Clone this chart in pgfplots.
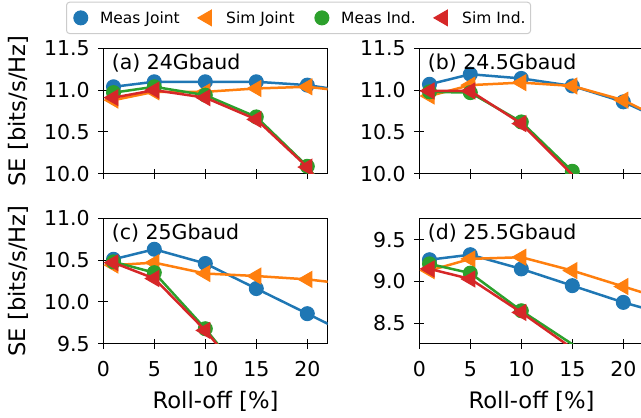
\documentclass[border=0pt]{standalone}
\usepackage{fontspec}
\setmainfont{DejaVu Sans}
\usepackage{pgfplots}
\pgfplotsset{compat=1.18}

\definecolor{tblue}{HTML}{1F77B4}
\definecolor{torange}{HTML}{FF7F0E}
\definecolor{tgreen}{HTML}{2CA02C}
\definecolor{tred}{HTML}{D62728}

\pgfplotsset{
  panel/.style={
    scale only axis, width=224.4pt, height=125.5pt,
    xmin=0, xmax=22, xtick={0,5,10,15,20},
    tick pos=left, tick align=center, major tick length=10pt,
    axis line style={line width=1pt},
    every tick/.style={black, line width=1pt},
    tick label style={font=\fontsize{20.5}{24}\selectfont},
    xticklabel style={yshift=-9pt},
    label style={font=\fontsize{22.7}{27}\selectfont},
    /pgf/number format/assume math mode=true,
    yticklabel style={xshift=-5pt, /pgf/number format/.cd, fixed, fixed zerofill, precision=1},
    xlabel style={at={(axis description cs:0.5,-0.46)}, anchor=center},
    ylabel style={at={(axis description cs:-0.379,0.5)}, anchor=center},
    clip marker paths=true,
    legend image code/.code={
      \path (-10pt,0pt) (16pt,0pt);
      \draw[##1] plot coordinates {(0pt,0pt)};
    },
  },
  mj/.style={tblue, line width=2.5pt, mark=*, mark size=7pt, mark options={line width=1pt}},
  sj/.style={torange, line width=2.5pt, mark=triangle*, mark size=9pt, mark options={rotate=90, line width=1pt}},
  mi/.style={tgreen, line width=2.5pt, mark=*, mark size=7pt, mark options={line width=1pt}},
  si/.style={tred, line width=2.5pt, mark=triangle*, mark size=9pt, mark options={rotate=90, line width=1pt}},
}
\newcommand{\paneltext}[1]{\node[anchor=base west, font=\fontsize{20.5}{24}\selectfont] at (rel axis cs:0,1) [xshift=5pt, yshift=-21pt] {#1};}

\begin{document}
\begin{tikzpicture}
\useasboundingbox (0pt,0pt) rectangle (641pt,-418pt);

% (a)
\begin{axis}[panel, at={(103.3pt,-48.3pt)}, anchor=north west,
  ymin=10, ymax=11.5, ytick={10,10.5,11,11.5}, xticklabels={},
  ylabel={SE [bits/s/Hz]},
  legend columns=4,
  legend style={at={(axis description cs:-0.166,1.371)}, anchor=north west,
    draw=black!20, rounded corners=3pt, line width=1pt, fill=white,
    font=\fontsize{15.5}{18}\selectfont, inner xsep=3pt, inner ysep=7pt,
    column sep=0pt, nodes={inner sep=2pt},
    /tikz/every even column/.append style={column sep=14pt}},
]
\addplot[mj] coordinates {(1,11.04)(5,11.10)(10,11.10)(15,11.10)(20,11.06)(25,10.97)};
\addlegendentry{Meas Joint}
\addplot[sj] coordinates {(1,10.88)(5,10.98)(10,10.98)(15,11.02)(20,11.04)(25,10.97)};
\addlegendentry{Sim Joint}
\addplot[mi] coordinates {(1,10.97)(5,11.04)(10,10.94)(15,10.68)(20,10.09)(25,9.3)};
\addlegendentry{Meas Ind.}
\addplot[si] coordinates {(1,10.91)(5,11.00)(10,10.91)(15,10.65)(20,10.08)(25,9.3)};
\addlegendentry{Sim Ind.}
\paneltext{(a) 24Gbaud}
\end{axis}

% (b)
\begin{axis}[panel, at={(419.3pt,-48.3pt)}, anchor=north west,
  ymin=10, ymax=11.5, ytick={10,10.5,11,11.5}, xticklabels={}]
\addplot[mj] coordinates {(1,11.07)(5,11.19)(10,11.14)(15,11.05)(20,10.86)(25,10.58)};
\addplot[sj] coordinates {(1,10.93)(5,11.06)(10,11.09)(15,11.05)(20,10.88)(25,10.58)};
\addplot[mi] coordinates {(1,10.98)(5,10.97)(10,10.62)(15,10.03)(20,9.4)};
\addplot[si] coordinates {(1,10.99)(5,10.99)(10,10.60)(15,9.99)(20,9.4)};
\paneltext{(b) 24.5Gbaud}
\end{axis}

% (c)
\begin{axis}[panel, at={(103.3pt,-218.3pt)}, anchor=north west,
  ymin=9.5, ymax=11, ytick={9.5,10,10.5,11},
  xlabel={Roll-off [\%]}, ylabel={SE [bits/s/Hz]}]
\addplot[mj] coordinates {(1,10.51)(5,10.63)(10,10.46)(15,10.16)(20,9.86)(25,9.56)};
\addplot[sj] coordinates {(1,10.44)(5,10.47)(10,10.34)(15,10.31)(20,10.27)(25,10.20)};
\addplot[mi] coordinates {(1,10.48)(5,10.35)(10,9.68)(15,8.93)};
\addplot[si] coordinates {(1,10.47)(5,10.28)(10,9.66)(15,8.93)};
\paneltext{(c) 25Gbaud}
\end{axis}

% (d)
\begin{axis}[panel, at={(419.3pt,-218.3pt)}, anchor=north west,
  ymin=8.255, ymax=9.755, ytick={8.5,9,9.5},
  xlabel={Roll-off [\%]}]
\addplot[mj] coordinates {(1,9.26)(5,9.32)(10,9.15)(15,8.95)(20,8.75)(25,8.58)};
\addplot[sj] coordinates {(1,9.13)(5,9.27)(10,9.29)(15,9.13)(20,8.94)(25,8.75)};
\addplot[mi] coordinates {(1,9.21)(5,9.10)(10,8.65)(15,8.25)(20,7.85)};
\addplot[si] coordinates {(1,9.15)(5,9.03)(10,8.63)(15,8.20)(20,7.80)};
\paneltext{(d) 25.5Gbaud}
\end{axis}
\end{tikzpicture}
\end{document}
